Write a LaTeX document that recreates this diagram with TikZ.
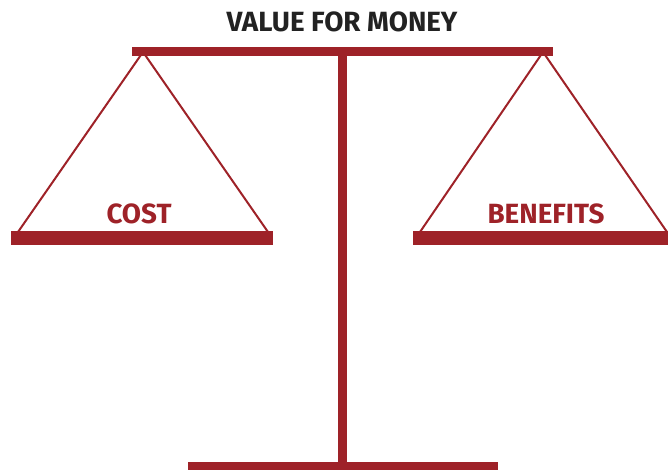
\documentclass[tikz,border=0pt]{standalone}
\usepackage{fontspec}
\setmainfont{Fira Sans}
\definecolor{scalered}{HTML}{9E2228}
\definecolor{titlegray}{HTML}{222222}
\begin{document}
\begin{tikzpicture}[x=1pt,y=-1pt,
    pantext/.style={font=\fontsize{27.8}{28}\selectfont\bfseries, inner sep=0pt, anchor=base}]
    \useasboundingbox (0,0) rectangle (668,470);

    % Strings of the pans
    \draw[scalered, line width=2pt] (18,232) -- (143,52) -- (268,232);
    \draw[scalered, line width=2pt] (420,232) -- (543,52) -- (667,232);

    % Beam, pole and foot
    \fill[scalered] (132,47) rectangle (553,56);
    \fill[scalered] (338,56) rectangle (347,462);
    \fill[scalered] (188,462) rectangle (498,470);

    % Pans
    \fill[scalered] (11,231) rectangle (273,245);
    \fill[scalered] (413,231) rectangle (668,245);

    % Texts
    \node[pantext, text=titlegray] (title) at (342,32) {VALUE FOR MONEY};
    \node[pantext, text=scalered] (cost) at (139,223) {COST};
    \node[pantext, text=scalered] (benefits) at (546,223) {BENEFITS};
\end{tikzpicture}
\end{document}
